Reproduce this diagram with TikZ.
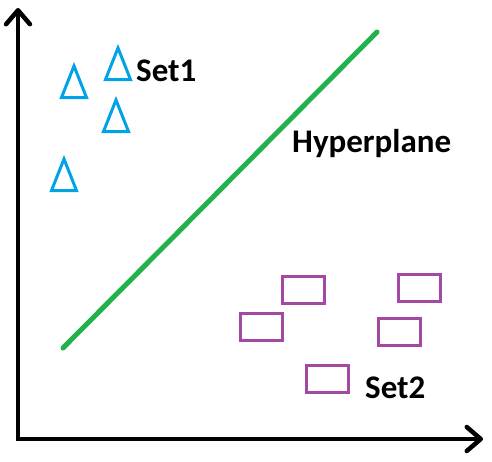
\documentclass[tikz,border=0pt]{standalone}
\usepackage{fontspec}
\setmainfont{Carlito}
\usetikzlibrary{arrows.meta}

\definecolor{setblue}{RGB}{0,162,232}
\definecolor{setpurple}{RGB}{163,73,164}
\definecolor{planegreen}{RGB}{34,177,76}

\begin{document}
\begin{tikzpicture}[
    x=1pt, y=-1pt,
    axis/.style={line width=4.5pt, {Straight Barb[length=14pt,width=24pt,round]}-{Straight Barb[length=14pt,width=24pt,round]}},
    plane/.style={planegreen, line width=5pt, line cap=round},
    sq/.style={rectangle, draw=setpurple, line width=3pt, minimum width=42pt, minimum height=27pt, inner sep=0pt},
    lbl/.style={font=\fontsize{33}{40}\selectfont\bfseries, inner sep=0pt, anchor=base west},
    tri/.pic={\draw[setblue, line width=3pt] (-12.5,0) -- (0,-31.5) -- (12.5,0) -- cycle;}
]
\useasboundingbox (0,0) rectangle (492,461);

% axes
\coordinate (O) at (18,439);
\coordinate (ytip) at (18,8);
\coordinate (xtip) at (483,439);
\draw[axis] (ytip) -- (O) -- (xtip);

% separating line
\coordinate (hpA) at (63,348);
\coordinate (hpB) at (377,32);
\draw[plane] (hpA) -- (hpB);

% first class
\pic at (74,97.5) {tri};
\pic at (118,79.5) {tri};
\pic at (116,131.5) {tri};
\pic at (64,190.5) {tri};

% second class
\node[sq] (r1) at (303.5,290) {};
\node[sq] (r2) at (419.5,288) {};
\node[sq] (r3) at (261.5,327) {};
\node[sq] (r4) at (399.5,331.5) {};
\node[sq] (r5) at (327.5,379) {};

% labels
\node[lbl] (set1) at (136,81) {Set1};
\node[lbl] (hyper) at (292,152) {Hyperplane};
\node[lbl] (set2) at (365,398) {Set2};
\end{tikzpicture}
\end{document}
